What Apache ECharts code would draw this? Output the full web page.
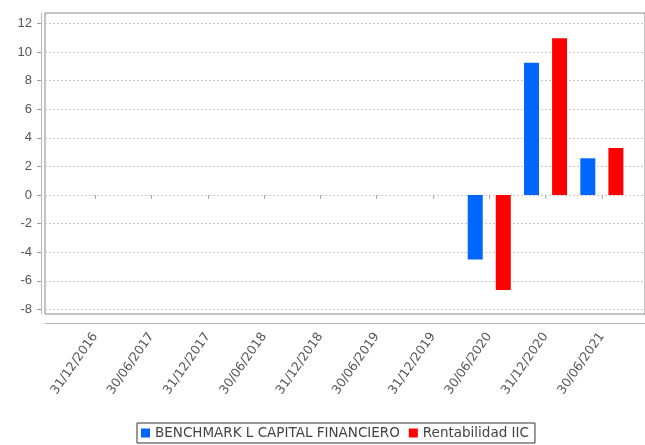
<!DOCTYPE html>
<html>
<head>
<meta charset="utf-8">
<script src="https://cdn.jsdelivr.net/npm/echarts@6/dist/echarts.min.js"></script>
<style>
  html, body { margin: 0; padding: 0; background: #ffffff; }
  #chart { width: 645px; height: 445px; }
</style>
</head>
<body>
<div id="chart"></div>
<script>
// Period-end dates (categories)
const categories = ['31/12/2016', '30/06/2017', '31/12/2017', '30/06/2018', '31/12/2018',
                    '30/06/2019', '31/12/2019', '30/06/2020', '31/12/2020', '30/06/2021'];
// Half-year returns, %
const benchmark = [null, null, null, null, null, null, null, -4.5, 9.25, 2.57];
const rentabilidad = [null, null, null, null, null, null, null, -6.64, 10.96, 3.29];
// Value axis ticks
const yTicks = [-8, -6, -4, -2, 0, 2, 4, 6, 8, 10, 12];
const yMin = -8.32;
const yMax = 12.73;

const seriesNames = ['BENCHMARK L CAPITAL FINANCIERO', 'Rentabilidad IIC'];
const seriesColors = ['#0066ff', '#ff0000'];

const chart = echarts.init(document.getElementById('chart'));
const txt = '#555555';
const font = 'DejaVu Sans, Arial, sans-serif';

chart.setOption({
  animation: false,
  backgroundColor: '#ffffff',
  grid: [
    // Plot frame with value axis and gridlines (right edge runs past the canvas)
    { left: 45, width: 610, top: 13, bottom: 131, show: true, borderColor: '#888888', borderWidth: 1, backgroundColor: 'transparent' },
    // Category area (inset inside the frame)
    { left: 67, right: 15, top: 13, bottom: 131 }
  ],
  xAxis: [
    {
      gridIndex: 0, type: 'value', min: 0, max: 1,
      axisLine: { show: true, onZero: false, lineStyle: { color: '#bbbbbb', width: 1 } },
      offset: 9,
      axisTick: { show: false }, axisLabel: { show: false }, splitLine: { show: false }
    },
    {
      gridIndex: 1, type: 'category', data: categories,
      offset: 9,
      axisLine: { show: false },
      axisTick: { show: true, alignWithLabel: true, length: 4, lineStyle: { color: '#aaaaaa' } },
      axisLabel: { rotate: 55, margin: 11, color: txt, fontSize: 12.5, fontFamily: font, interval: 0 },
      splitLine: { show: false }
    }
  ],
  yAxis: [
    {
      gridIndex: 0, type: 'value', min: yMin, max: yMax,
      offset: 4,
      axisLine: { show: true, onZero: false, lineStyle: { color: '#bbbbbb', width: 1 } },
      axisTick: { show: true, length: 4, customValues: yTicks, lineStyle: { color: '#999999' } },
      axisLabel: { customValues: yTicks, color: txt, fontSize: 13, fontFamily: 'Liberation Sans, Arial, sans-serif', margin: 9 },
      splitLine: { show: true, lineStyle: { color: '#c8c8c8', type: [2, 2], width: 1 } }
    },
    {
      gridIndex: 1, type: 'value', min: yMin, max: yMax, show: false,
      splitLine: { show: false }
    }
  ],
  legend: {
    left: 137, bottom: 2,
    data: seriesNames,
    icon: 'rect', itemWidth: 9, itemHeight: 9, itemGap: 9,
    borderColor: '#333333', borderWidth: 1, padding: [3, 6, 3, 4],
    textStyle: { color: '#444444', fontSize: 13.5, fontFamily: font }
  },
  series: [
    {
      name: seriesNames[0], type: 'bar', xAxisIndex: 1, yAxisIndex: 1,
      data: benchmark, barWidth: 15, barGap: '87%',
      itemStyle: { color: seriesColors[0] }
    },
    {
      name: seriesNames[1], type: 'bar', xAxisIndex: 1, yAxisIndex: 1,
      data: rentabilidad, barWidth: 15, barGap: '87%',
      itemStyle: { color: seriesColors[1] }
    }
  ]
});
</script>
</body>
</html>
